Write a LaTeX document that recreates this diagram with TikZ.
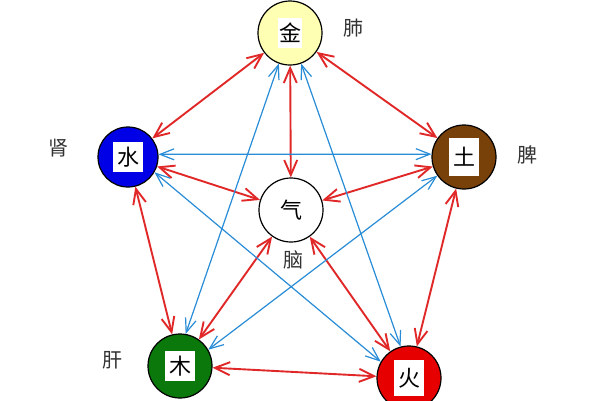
\documentclass[tikz,border=0pt]{standalone}
\usepackage{fontspec}
\setmainfont{Noto Sans CJK SC}
\usetikzlibrary{arrows.meta}
\begin{document}
\begin{tikzpicture}[x=1pt,y=-1pt,
  el/.style={circle,draw=black,line width=1.2pt,minimum size=64pt,inner sep=0pt},
  lab/.style={fill=white,inner sep=1pt,minimum size=30pt,font=\fontsize{22}{22}\selectfont},
  txt/.style={font=\fontsize{20}{20}\selectfont,text=black!80},
  rr/.style={draw={rgb,255:red,225;green,40;blue,40},line width=1.9pt,{Straight Barb[length=15pt,width=13pt]}-{Straight Barb[length=15pt,width=13pt]}},
  bb/.style={draw={rgb,255:red,40;green,140;blue,215},line width=1.2pt,{Straight Barb[length=14pt,width=11pt]}-{Straight Barb[length=14pt,width=11pt]}}]
\useasboundingbox[fill=white] (0,0) rectangle (600,400);
\node[el,fill={rgb,255:red,255;green,255;blue,180}] (jin) at (290,33) {};
\node[el,fill={rgb,255:red,0;green,0;blue,230},minimum size=60pt] (shui) at (128,157) {};
\node[el,fill={rgb,255:red,120;green,65;blue,10}] (tu) at (464,157) {};
\node[el,fill={rgb,255:red,10;green,120;blue,10}] (mu) at (180,366) {};
\node[el,fill={rgb,255:red,230;green,0;blue,0}] (huo) at (409,378) {};
\node[el] (qi) at (291,210) {};
\node[lab,minimum width=22pt] at (jin) {金};
\node[lab] at (shui) {水};
\node[lab,minimum height=38pt] at (tu) {土};
\node[lab] at (mu) {木};
\node[lab,minimum height=36pt] at (huo) {火};
\node[font=\fontsize{22}{22}\selectfont] at (qi) {气};
\node[txt] (l1) at (353,28) {肺};
\node[txt] (l2) at (58,148) {肾};
\node[txt] (l3) at (527,155) {脾};
\node[txt] (l4) at (112,360) {肝};
\node[txt] (l5) at (293,260) {脑};
\draw[rr] (jin) -- (shui);
\draw[rr] (jin) -- (tu);
\draw[rr] (shui) -- (mu);
\draw[rr] (tu) -- (huo);
\draw[rr] (mu) -- (huo);
\draw[rr] (jin) -- (qi);
\draw[rr] (shui) -- (qi);
\draw[rr] (tu) -- (qi);
\draw[rr] (mu) -- (qi);
\draw[rr] (huo) -- (qi);
\draw[bb] (jin.250) -- (mu.80);
\draw[bb] (jin.290) -- (huo.105);
\draw[bb] (shui.5) -- (tu.175);
\draw[bb] (shui.330) -- (huo.150);
\draw[bb] (tu.215) -- (mu.30);
\end{tikzpicture}
\end{document}
